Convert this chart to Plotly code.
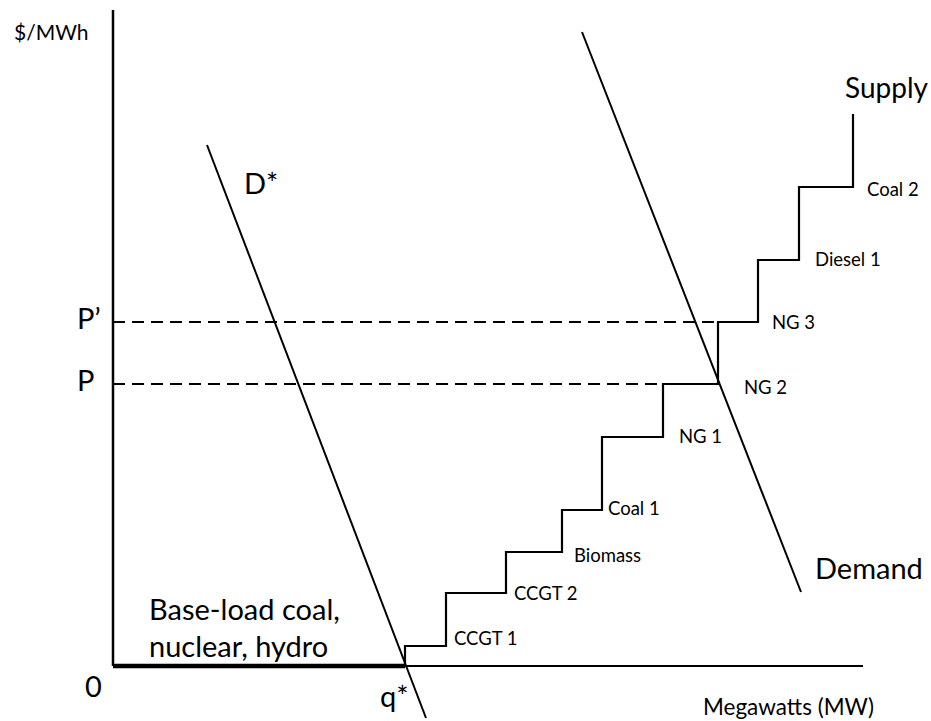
import plotly.graph_objects as go

# ---- data (quantity in MW units, price in $/MWh units; arbitrary diagram scale) ----
plants = ["CCGT 1", "CCGT 2", "Biomass", "Coal 1", "NG 1", "NG 2", "NG 3", "Diesel 1", "Coal 2"]
step_start_q = [292, 333, 393, 449, 489, 550, 605, 645, 686]
step_end_q = [333, 393, 449, 489, 550, 605, 645, 686, 740]
step_price = [20, 73, 114, 156, 229, 282, 344, 406, 479]
supply_top_price = 552
baseload_q = [0, 292]
baseload_p = [0, 0]

demand_q = [469, 688]
demand_p = [634, 74]
dstar_q = [94, 313]
dstar_p = [521, -52]

price_P = 282
price_P_prime = 344
x_axis_max = 750
y_axis_max = 656

# ---- build supply staircase from the data ----
sq = [step_start_q[0]]
sp = [0]
for q0, q1, p in zip(step_start_q, step_end_q, step_price):
    sq += [q0, q1]
    sp += [p, p]
sq.append(step_end_q[-1])
sp.append(supply_top_price)

FONT = "Lato, 'Liberation Sans', Arial, sans-serif"
BLACK = "#000000"

fig = go.Figure()

def line(x, y, width=2, dash="solid"):
    fig.add_trace(go.Scatter(x=x, y=y, mode="lines",
                             line=dict(color=BLACK, width=width, dash=dash),
                             hoverinfo="skip", showlegend=False))

# axes
line([0, 0], [0, y_axis_max], width=2.5)
line([0, x_axis_max], [0, 0], width=2)
# dashed price lines
line([0, step_start_q[6]], [price_P_prime, price_P_prime], width=2, dash="12px,7px")
line([0, step_start_q[6]], [price_P, price_P], width=2, dash="12px,7px")
# base load
line(baseload_q, baseload_p, width=4.5)
# supply
line(sq, sp, width=2.2)
# demand curves
line(demand_q, demand_p, width=2)
line(dstar_q, dstar_p, width=2)

def label(text, x, y, size, anchor="left"):
    fig.add_annotation(x=x, y=y, text=text, showarrow=False, xanchor=anchor,
                       yanchor="middle", font=dict(family=FONT, size=size, color=BLACK),
                       xref="x", yref="y")

# small plant labels (left x, center y)
plant_label_pos = [(339, 28), (399, 73), (459, 111), (493, 158), (564, 230),
                   (629, 279), (657, 344), (700, 407), (752, 477)]
for name, (lx, ly) in zip(plants, plant_label_pos):
    label(name, lx, ly, 18.5)

BIG = 29
label("Supply", 730, 579, 28)
label("Demand", 700, 99, BIG)
label("D*", 129, 484, BIG)
label("P\u2019", -38, 349, BIG)
label("P", -38, 287, BIG)
label("0", -30, -19, BIG)
label("q*", 265, -29, BIG)
label("Base-load coal,", 34, 58, BIG)
label("nuclear, hydro", 34, 21, BIG)
label("$/MWh", -101, 635, 21)
label("Megawatts (MW)", 588, -40, 22.5)

fig.update_layout(
    width=931, height=721,
    margin=dict(l=0, r=0, t=0, b=0),
    paper_bgcolor="white", plot_bgcolor="white",
    xaxis=dict(range=[-113, 818], visible=False, fixedrange=True),
    yaxis=dict(range=[-55, 666], visible=False, fixedrange=True),
    showlegend=False,
)

fig.write_html(
    "out.html",
    config={"displayModeBar": False, "staticPlot": True},
    post_script="document.body.style.margin='0';document.body.style.overflow='hidden';",
)
